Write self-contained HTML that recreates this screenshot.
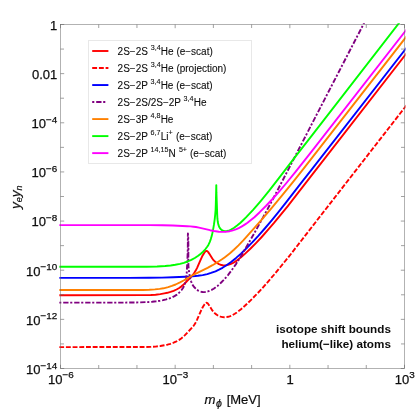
<!DOCTYPE html>
<html><head><meta charset="utf-8"><title>isotope shift bounds</title>
<style>
html,body{margin:0;padding:0;background:#fff;}
body{width:415px;height:415px;overflow:hidden;}
svg{display:block;}
text{font-family:"Liberation Sans",sans-serif;fill:#0d0d0d;filter:grayscale(1);}
.tk{font-size:13px;stroke:#111;stroke-width:0.25px;}
.sup{font-size:9.9px;}
.lg{font-size:10px;stroke:#111;stroke-width:0.1px;}
.ls{font-size:7.15px;}
.ax{font-size:13px;stroke:#111;stroke-width:0.2px;}
.curve{fill:none;stroke-width:1.9;stroke-linejoin:round;}
</style></head><body>
<svg width="415" height="415" viewBox="0 0 415 415">
<rect width="415" height="415" fill="#fff"/>
<defs><clipPath id="cp"><rect x="59.2" y="23.3" width="346.3" height="345.8"/></clipPath></defs>
<g clip-path="url(#cp)">
<path class="curve" stroke="#ff0000" d="M59.2 295.2L145.3 295.1L150.8 295.0L155.6 294.7L160.3 294.1L164.3 293.4L167.4 292.8L170.5 291.9L173.6 290.8L176.5 289.5L179.2 288.0L181.2 286.6L183.0 285.1L184.7 283.5L192.0 275.8L193.6 273.9L194.5 272.6L195.7 270.6L197.1 267.8L200.6 259.8L202.3 256.1L203.6 253.9L204.5 252.5L205.5 251.3L206.0 251.0L206.6 250.9L207.1 251.1L207.7 251.5L208.2 252.1L209.2 253.6L212.3 258.5L213.3 259.8L214.3 260.9L215.5 262.0L217.5 263.3L218.9 264.1L220.4 264.7L222.7 265.2L224.3 265.4L225.8 265.3L228.1 264.9L230.4 264.2L232.6 263.2L234.8 261.9L236.8 260.6L240.7 257.6L244.9 253.9L250.6 248.5L256.2 242.8L261.7 237.0L267.5 230.4L273.8 223.1L280.4 215.1L288.0 205.8L295.9 195.7L312.0 174.9L409.3 49.8"/>
<path class="curve" stroke="#ff0000" stroke-dasharray="4.9 1.8" d="M59.2 347.1L145.3 347.0L150.8 346.9L155.6 346.6L160.3 346.0L164.3 345.3L167.4 344.7L170.5 343.8L173.6 342.7L176.5 341.4L179.2 339.9L181.2 338.5L183.0 337.0L184.7 335.4L192.0 327.7L193.6 325.8L194.5 324.5L195.7 322.5L197.1 319.7L200.6 311.7L202.3 308.0L203.6 305.8L204.5 304.4L205.5 303.2L206.0 302.9L206.6 302.8L207.1 303.0L207.7 303.4L208.2 304.0L209.2 305.5L212.3 310.4L213.3 311.7L214.3 312.8L215.5 313.9L217.5 315.2L218.9 316.0L220.4 316.6L222.7 317.1L224.3 317.3L225.8 317.2L228.1 316.8L230.4 316.1L232.6 315.1L234.8 313.8L236.8 312.5L240.7 309.5L244.9 305.8L250.6 300.4L256.2 294.7L261.7 288.9L267.5 282.3L273.8 275.0L280.4 267.0L288.0 257.7L295.9 247.6L312.0 226.8L409.3 101.7"/>
<path class="curve" stroke="#0000ff" d="M59.2 277.9L129.1 277.9L149.0 277.8L161.9 277.6L173.1 277.3L185.2 276.8L192.4 276.4L197.9 275.8L202.7 275.1L207.3 274.1L211.0 272.9L215.5 271.3L219.0 269.6L222.5 267.8L226.5 265.2L231.1 262.0L236.1 257.9L241.0 253.6L246.2 248.5L252.5 242.2L258.5 235.7L264.8 228.5L271.5 220.6L278.0 212.6L285.9 202.6L300.6 183.7L312.0 169.2L409.3 44.2"/>
<path class="curve" stroke="#800080" stroke-dasharray="2.1 1.9 5.3 1.7" d="M59.2 302.6L125.0 302.6L139.5 302.4L147.4 302.1L152.2 301.8L156.2 301.3L160.1 300.7L163.2 300.1L166.3 299.3L169.4 298.4L172.4 297.2L174.5 296.1L176.5 294.9L178.4 293.4L180.1 291.8L181.6 290.0L183.0 288.0L184.1 285.8L185.0 283.6L185.8 280.5L186.3 277.4L186.7 273.4L187.4 260.4L187.8 248.5L187.9 233.4L188.2 237.4L188.3 241.5L188.4 246.3L188.3 260.5L188.4 265.3L188.7 269.3L189.4 274.1L189.8 276.5L190.4 278.9L191.1 281.3L191.7 282.8L192.3 284.3L193.1 285.7L194.1 287.0L195.7 288.7L196.9 289.7L198.2 290.6L199.6 291.2L201.1 291.7L202.6 292.0L204.1 292.1L205.6 291.9L207.9 291.4L209.4 290.8L211.6 289.9L213.7 288.7L215.7 287.3L217.6 285.9L219.5 284.2L221.2 282.5L223.5 280.2L227.8 275.3L229.8 272.7L232.2 269.5L236.3 263.6L240.1 257.6L244.6 250.1L253.7 234.2L261.5 220.2L268.4 207.5L275.2 194.8L364.3 22.6"/>
<path class="curve" stroke="#ff8000" d="M59.2 290.0L142.9 290.0L149.3 289.8L154.9 289.4L159.6 288.9L163.5 288.3L168.2 287.1L171.9 285.9L175.6 284.5L180.0 282.4L183.6 280.5L191.3 276.0L194.8 274.1L207.6 267.8L212.5 265.2L215.9 263.2L218.6 261.5L222.0 259.3L224.6 257.4L229.7 253.5L233.9 249.8L238.5 245.4L243.5 240.2L252.0 230.7L262.6 218.6L272.4 207.1L282.1 195.4L292.7 182.4L303.6 168.6L409.3 32.9"/>
<path class="curve" stroke="#00ff00" d="M59.2 266.7L146.6 266.7L157.1 266.5L165.1 266.0L170.6 265.5L175.3 264.8L180.0 263.9L183.8 262.8L187.6 261.5L191.3 259.9L194.8 258.0L198.2 255.8L200.8 253.8L203.1 251.7L205.3 249.3L207.2 246.8L208.4 244.9L209.7 242.1L210.8 239.1L211.7 236.1L212.8 231.4L213.9 224.9L214.7 219.3L215.2 214.5L215.6 209.8L215.8 204.2L216.3 185.1L216.3 185.1L216.4 192.4L216.9 205.8L217.2 214.6L217.4 218.7L217.8 222.0L218.3 224.4L219.1 226.7L219.9 228.1L220.8 229.3L221.4 229.8L222.0 230.2L223.4 230.8L224.2 231.0L225.7 231.2L226.5 231.1L228.0 230.8L229.5 230.3L231.0 229.6L233.8 228.0L237.1 225.6L240.2 223.0L243.1 220.2L246.0 217.4L249.3 213.9L253.1 209.8L256.8 205.6L260.9 200.8L269.0 190.9L276.4 181.4L295.4 156.6L311.6 135.8L402.0 19.2"/>
<path class="curve" stroke="#ff00ff" d="M59.2 225.1L149.8 225.1L162.6 225.2L172.9 225.5L187.2 226.2L190.4 226.4L193.5 226.7L195.9 227.0L199.0 227.6L210.0 230.2L214.0 231.0L218.8 231.7L222.7 231.9L225.1 231.8L227.4 231.6L229.7 231.2L232.0 230.6L234.3 229.9L236.5 229.1L238.7 228.1L241.5 226.6L243.5 225.4L245.5 224.1L247.5 222.8L250.0 220.8L254.4 217.2L259.7 212.2L265.9 206.0L272.5 199.0L278.9 191.9L285.6 184.0L295.7 171.7L311.5 151.7L409.3 26.0"/>
</g>
<rect x="88.5" y="40.5" width="163" height="123" fill="#fff" stroke="#e8e8e8" stroke-width="1"/>
<line x1="92.2" y1="51.00" x2="108.4" y2="51.00" stroke="#ff0000" stroke-width="1.9"/>
<text class="lg" x="117.6" y="54.50">2S−2S <tspan class="ls" dy="-4.3">3,4</tspan><tspan dy="4.3" dx="0.2">He (e−scat)</tspan></text>
<line x1="92.2" y1="68.02" x2="108.4" y2="68.02" stroke="#ff0000" stroke-width="1.9" stroke-dasharray="4.9 1.8"/>
<text class="lg" x="117.6" y="71.52">2S−2S <tspan class="ls" dy="-4.3">3,4</tspan><tspan dy="4.3" dx="0.2">He (projection)</tspan></text>
<line x1="92.2" y1="85.04" x2="108.4" y2="85.04" stroke="#0000ff" stroke-width="1.9"/>
<text class="lg" x="117.6" y="88.54">2S−2P <tspan class="ls" dy="-4.3">3,4</tspan><tspan dy="4.3" dx="0.2">He (e−scat)</tspan></text>
<line x1="92.2" y1="102.06" x2="106.4" y2="102.06" stroke="#800080" stroke-width="1.9" stroke-dasharray="2.1 1.9 5.3 1.7"/>
<text class="lg" x="117.6" y="105.56">2S−2S/2S−2P <tspan class="ls" dy="-4.3">3,4</tspan><tspan dy="4.3" dx="0.2">He</tspan></text>
<line x1="92.2" y1="119.08" x2="108.4" y2="119.08" stroke="#ff8000" stroke-width="1.9"/>
<text class="lg" x="117.6" y="122.58">2S−3P <tspan class="ls" dy="-4.3">4,8</tspan><tspan dy="4.3" dx="0.2">He</tspan></text>
<line x1="92.2" y1="136.10" x2="108.4" y2="136.10" stroke="#00ff00" stroke-width="1.9"/>
<text class="lg" x="117.6" y="139.60">2S−2P <tspan class="ls" dy="-4.3">6,7</tspan><tspan dy="4.3" dx="0.3">Li</tspan><tspan class="ls" dy="-4.3">+</tspan><tspan dy="4.3" dx="0.5"> (e−scat)</tspan></text>
<line x1="92.2" y1="153.12" x2="108.4" y2="153.12" stroke="#ff00ff" stroke-width="1.9"/>
<text class="lg" x="117.6" y="156.62">2S−2P <tspan class="ls" dy="-4.3">14,15</tspan><tspan dy="4.3" dx="0.2">N </tspan><tspan class="ls" dy="-4.3" dx="0.3">5+</tspan><tspan dy="4.3" dx="0.2"> (e−scat)</tspan></text>
<g stroke="#666" stroke-width="0.62" fill="none">
<rect x="60.5" y="24.5" width="344.0" height="344.0" stroke-width="0.5"/>
<line x1="60.5" y1="24.50" x2="64.2" y2="24.50"/>
<line x1="404.5" y1="24.50" x2="400.8" y2="24.50"/>
<line x1="60.5" y1="49.07" x2="64.0" y2="49.07"/>
<line x1="404.5" y1="49.07" x2="401.0" y2="49.07"/>
<line x1="60.5" y1="73.64" x2="64.2" y2="73.64"/>
<line x1="404.5" y1="73.64" x2="400.8" y2="73.64"/>
<line x1="60.5" y1="98.21" x2="64.0" y2="98.21"/>
<line x1="404.5" y1="98.21" x2="401.0" y2="98.21"/>
<line x1="60.5" y1="122.79" x2="64.2" y2="122.79"/>
<line x1="404.5" y1="122.79" x2="400.8" y2="122.79"/>
<line x1="60.5" y1="147.36" x2="64.0" y2="147.36"/>
<line x1="404.5" y1="147.36" x2="401.0" y2="147.36"/>
<line x1="60.5" y1="171.93" x2="64.2" y2="171.93"/>
<line x1="404.5" y1="171.93" x2="400.8" y2="171.93"/>
<line x1="60.5" y1="196.50" x2="64.0" y2="196.50"/>
<line x1="404.5" y1="196.50" x2="401.0" y2="196.50"/>
<line x1="60.5" y1="221.07" x2="64.2" y2="221.07"/>
<line x1="404.5" y1="221.07" x2="400.8" y2="221.07"/>
<line x1="60.5" y1="245.64" x2="64.0" y2="245.64"/>
<line x1="404.5" y1="245.64" x2="401.0" y2="245.64"/>
<line x1="60.5" y1="270.21" x2="64.2" y2="270.21"/>
<line x1="404.5" y1="270.21" x2="400.8" y2="270.21"/>
<line x1="60.5" y1="294.79" x2="64.0" y2="294.79"/>
<line x1="404.5" y1="294.79" x2="401.0" y2="294.79"/>
<line x1="60.5" y1="319.36" x2="64.2" y2="319.36"/>
<line x1="404.5" y1="319.36" x2="400.8" y2="319.36"/>
<line x1="60.5" y1="343.93" x2="64.0" y2="343.93"/>
<line x1="404.5" y1="343.93" x2="401.0" y2="343.93"/>
<line x1="60.5" y1="368.50" x2="64.2" y2="368.50"/>
<line x1="404.5" y1="368.50" x2="400.8" y2="368.50"/>
<line x1="60.50" y1="368.5" x2="60.50" y2="364.8"/>
<line x1="60.50" y1="24.5" x2="60.50" y2="28.2"/>
<line x1="98.72" y1="368.5" x2="98.72" y2="365.0"/>
<line x1="98.72" y1="24.5" x2="98.72" y2="28.0"/>
<line x1="136.94" y1="368.5" x2="136.94" y2="365.0"/>
<line x1="136.94" y1="24.5" x2="136.94" y2="28.0"/>
<line x1="175.17" y1="368.5" x2="175.17" y2="364.8"/>
<line x1="175.17" y1="24.5" x2="175.17" y2="28.2"/>
<line x1="213.39" y1="368.5" x2="213.39" y2="365.0"/>
<line x1="213.39" y1="24.5" x2="213.39" y2="28.0"/>
<line x1="251.61" y1="368.5" x2="251.61" y2="365.0"/>
<line x1="251.61" y1="24.5" x2="251.61" y2="28.0"/>
<line x1="289.83" y1="368.5" x2="289.83" y2="364.8"/>
<line x1="289.83" y1="24.5" x2="289.83" y2="28.2"/>
<line x1="328.06" y1="368.5" x2="328.06" y2="365.0"/>
<line x1="328.06" y1="24.5" x2="328.06" y2="28.0"/>
<line x1="366.28" y1="368.5" x2="366.28" y2="365.0"/>
<line x1="366.28" y1="24.5" x2="366.28" y2="28.0"/>
<line x1="404.50" y1="368.5" x2="404.50" y2="364.8"/>
<line x1="404.50" y1="24.5" x2="404.50" y2="28.2"/>
</g>
<text class="tk" x="57.3" y="29.80" text-anchor="end">1</text>
<text class="tk" x="57.3" y="78.94" text-anchor="end">0.01</text>
<text class="tk" x="57.3" y="128.09" text-anchor="end">10<tspan class="sup" dy="-5.3">−4</tspan></text>
<text class="tk" x="57.3" y="177.23" text-anchor="end">10<tspan class="sup" dy="-5.3">−6</tspan></text>
<text class="tk" x="57.3" y="226.37" text-anchor="end">10<tspan class="sup" dy="-5.3">−8</tspan></text>
<text class="tk" x="57.3" y="275.51" text-anchor="end">10<tspan class="sup" dy="-5.3">−10</tspan></text>
<text class="tk" x="57.3" y="324.66" text-anchor="end">10<tspan class="sup" dy="-5.3">−12</tspan></text>
<text class="tk" x="57.3" y="373.80" text-anchor="end">10<tspan class="sup" dy="-5.3">−14</tspan></text>
<text class="tk" x="60.80" y="383.7" text-anchor="middle">10<tspan class="sup" dy="-5.3">−6</tspan></text>
<text class="tk" x="175.47" y="383.7" text-anchor="middle">10<tspan class="sup" dy="-5.3">−3</tspan></text>
<text class="tk" x="290.13" y="383.7" text-anchor="middle">1</text>
<text class="tk" x="404.80" y="383.7" text-anchor="middle">10<tspan class="sup" dy="-5.3">3</tspan></text>
<text class="ax" x="232.6" y="404.2" text-anchor="middle"><tspan font-style="italic" style="font-size:13.2px">m</tspan><tspan font-style="italic" style="font-size:10.6px" dy="2.4" dx="0.4">ϕ</tspan><tspan dy="-2.4" dx="1.2"> [MeV]</tspan></text>
<text class="ax" font-style="italic" style="font-size:13.6px" transform="translate(19.5,197.2) rotate(-90)" text-anchor="middle">y<tspan style="font-size:9px" dy="2.3">e</tspan><tspan dy="-2.3">y</tspan><tspan style="font-size:9px" dy="2.3">n</tspan></text>
<text x="390.9" y="333.3" text-anchor="end" font-size="11.7px" font-weight="bold">isotope shift bounds</text>
<text x="390.9" y="347.6" text-anchor="end" font-size="11.7px" font-weight="bold">helium(−like) atoms</text>
</svg>
</body></html>
